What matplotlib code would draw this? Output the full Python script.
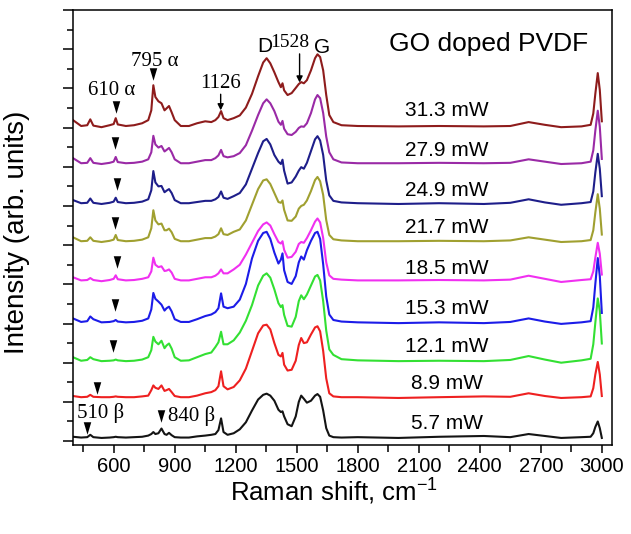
import matplotlib
matplotlib.use("Agg")
import matplotlib.pyplot as plt
from matplotlib.ticker import MultipleLocator
import numpy as np

plt.rcParams['font.family'] = ['Liberation Sans', 'DejaVu Sans']
plt.rcParams['mathtext.fontset'] = 'custom'
plt.rcParams['mathtext.rm'] = 'Liberation Sans'
plt.rcParams['mathtext.it'] = 'Liberation Sans:italic'

# Raman shift grid (cm^-1)
shift = [400, 440, 470, 485, 500, 540, 580, 600, 610, 620,
         660, 700, 740, 770, 785, 795, 805, 820, 835, 850, 860, 872, 885, 900, 930,
         970, 1010, 1050, 1080, 1100, 1115, 1128, 1140, 1160, 1190,
         1220, 1250, 1280, 1310, 1335, 1352, 1370, 1390, 1410, 1422, 1430, 1438,
         1455, 1475, 1495, 1510, 1522, 1535, 1550, 1570, 1590, 1602, 1615, 1630, 1645, 1660, 1680,
         1720, 1800, 2000, 2200, 2420, 2550, 2640, 2720, 2800, 2900, 2945, 2958, 2968, 2980, 2990, 3000]

powers = ["5.7 mW", "8.9 mW", "12.1 mW", "15.3 mW", "18.5 mW",
          "21.7 mW", "24.9 mW", "27.9 mW", "31.3 mW"]
offsets = [0.08, 1.10, 2.02, 3.01, 4.08, 5.08, 6.05, 7.07, 8.01]
colors = ["#141414", "#ee2020", "#33e033", "#1c1ce8", "#f030f0",
          "#a0a030", "#1e1e8a", "#9a2aa6", "#8e1c1c"]

i_5_7 = [.03, .01, .02, .08, .02, .0, .01, .02, .03, .02,
         .01, .02, .03, .06, .1, .15, .1, .12, .24, .1, .08, .13, .07, .02, .01,
         .01, .04, .06, .08, .1, .2, .5, .15, .08, .12,
         .22, .4, .7, .98, 1.1, 1.13, 1.08, .95, .72, .66, .68, .55,
         .35, .3, .55, .92, 1.08, 1.0, .9, .95, 1.08, 1.12, 1.05, .7, .25, .06, .02,
         .01, .02, .0, .03, .05, .02, .1, .05, .0, .02, .03, .12, .28, .42, .25, .0]
i_8_9 = [.05, .02, .03, .08, .03, .02, .02, .03, .04, .03,
         .02, .02, .04, .06, .2, .32, .26, .23, .32, .18, .2, .23, .15, .05, .02,
         .02, .06, .12, .15, .2, .3, .68, .3, .22, .28,
         .45, .75, 1.2, 1.65, 1.85, 1.87, 1.75, 1.4, 1.1, 1.06, 1.15, .85,
         .7, .72, .95, 1.35, 1.53, 1.4, 1.42, 1.62, 1.8, 1.83, 1.7, 1.2, .5, .12, .04,
         .02, .02, .0, .02, .04, .03, .12, .05, .0, .02, .04, .25, .6, .92, .6, .05]
i_12_1 = [.12, .03, .05, .12, .07, .02, .03, .04, .06, .04,
          .02, .03, .06, .12, .3, .64, .52, .45, .54, .35, .42, .47, .34, .12, .03,
          .04, .12, .2, .24, .38, .5, .77, .45, .45, .55,
          .75, 1.05, 1.45, 1.95, 2.2, 2.26, 2.15, 1.85, 1.5, 1.4, 1.45, 1.2,
          .92, .9, 1.15, 1.55, 1.7, 1.6, 1.72, 1.95, 2.18, 2.22, 2.08, 1.55, .8, .32, .18,
          .07, .04, .02, .03, .02, .05, .15, .06, -.02, .04, .08, .45, 1.0, 1.62, 1.3, .47]
i_15_3 = [.12, .03, .05, .17, .1, .02, .03, .05, .08, .04,
          .02, .03, .06, .12, .35, .77, .62, .55, .47, .32, .38, .42, .3, .1, .03,
          .03, .1, .18, .22, .28, .38, .76, .42, .38, .42,
          .6, 1.0, 1.65, 2.1, 2.3, 2.33, 2.15, 1.8, 1.52, 1.62, 1.78, 1.35,
          1.05, 1.0, 1.2, 1.55, 1.7, 1.62, 1.86, 2.1, 2.3, 2.33, 2.15, 1.5, .68, .22, .08,
          .04, .02, .0, .02, .0, .03, .12, .04, -.02, .02, .05, .4, 1.0, 1.66, 1.2, .26]
i_18_5 = [.1, .02, .03, .08, .03, .0, .03, .06, .15, .05,
          .02, .03, .06, .1, .25, .6, .42, .36, .38, .26, .27, .3, .22, .06, .02,
          .02, .06, .1, .1, .14, .2, .3, .2, .2, .3,
          .42, .68, .98, 1.28, 1.45, 1.5, 1.42, 1.2, 1.0, .96, 1.02, .8,
          .6, .62, .75, .95, 1.0, .98, 1.1, 1.3, 1.52, 1.6, 1.5, 1.1, .48, .15, .06,
          .04, .02, .02, .03, .02, .04, .14, .06, -.02, .03, .05, .25, .6, .98, .7, .17]
i_21_7 = [.12, .02, .03, .12, .03, .0, .03, .06, .18, .05,
          .02, .03, .06, .12, .35, .81, .55, .45, .47, .3, .3, .34, .25, .08, .02,
          .02, .06, .1, .1, .14, .2, .35, .2, .18, .26,
          .32, .55, .95, 1.35, 1.57, 1.6, 1.48, 1.25, 1.02, 1.0, 1.06, .82,
          .55, .54, .65, .85, .92, .95, 1.06, 1.3, 1.58, 1.66, 1.55, 1.2, .56, .18, .07,
          .04, .02, .02, .03, .02, .04, .12, .06, .0, .02, .05, .3, .75, 1.22, .85, .19]
i_24_9 = [.1, .02, .03, .14, .03, .0, .03, .06, .16, .05,
          .02, .03, .06, .12, .35, .84, .55, .45, .46, .3, .34, .38, .28, .1, .02,
          .02, .05, .08, .08, .12, .18, .32, .16, .13, .2,
          .28, .5, .9, 1.3, 1.6, 1.66, 1.52, 1.25, 1.08, 1.02, 1.13, .85,
          .52, .55, .7, .85, .94, .9, 1.05, 1.35, 1.65, 1.73, 1.62, 1.25, .6, .22, .08,
          .04, .02, .0, .02, .0, .03, .12, .04, -.02, .02, .05, .32, .8, 1.28, .9, .2]
i_27_9 = [.15, .02, .03, .15, .03, .0, .03, .06, .18, .05,
          .02, .03, .06, .12, .3, .72, .5, .42, .46, .32, .36, .41, .3, .12, .02,
          .02, .06, .1, .1, .15, .22, .36, .2, .17, .2,
          .28, .48, .85, 1.25, 1.55, 1.65, 1.55, 1.35, 1.08, 1.0, 1.1, .9,
          .76, .74, .82, .92, .96, .95, 1.04, 1.3, 1.65, 1.76, 1.68, 1.3, .7, .3, .12,
          .04, .02, .02, .03, .02, .03, .12, .06, .0, .02, .06, .35, .85, 1.36, .95, .13]
i_31_3 = [.18, .03, .05, .2, .04, .0, .05, .08, .23, .07,
          .03, .05, .1, .18, .43, 1.07, .77, .66, .61, .43, .48, .54, .38, .18, .03,
          .03, .1, .15, .13, .18, .26, .41, .23, .18, .23,
          .3, .5, .85, 1.3, 1.65, 1.76, 1.63, 1.4, 1.15, 1.02, 1.12, .94,
          .82, .87, 1.0, 1.1, 1.15, 1.12, 1.2, 1.45, 1.76, 1.86, 1.79, 1.45, .82, .31, .13,
          .05, .03, .02, .03, .02, .03, .13, .06, .0, .02, .06, .35, .85, 1.38, .95, .15]

spectra = [i_5_7, i_8_9, i_12_1, i_15_3, i_18_5, i_21_7, i_24_9, i_27_9, i_31_3]

# label positions (y in data units)
label_x = 2237
label_y = [0.46, 1.48, 2.42, 3.39, 4.41, 5.46, 6.40, 7.42, 8.44]

# triangle markers (peak indicators)
tri_x = [467, 834, 516, 598, 605, 618, 605, 618, 605, 610, 795]
tri_y = [0.34, 0.64, 1.36, 2.42, 3.46, 4.57, 5.56, 6.56, 7.61, 8.53, 9.37]

fig = plt.figure(figsize=(6.31, 5.34), dpi=100)
ax = fig.add_axes([73/631, 1-445/534, (612-73)/631, (445-10)/534])

for s, off, c in zip(spectra, offsets, colors):
    ax.plot(shift, np.array(s) + off, color=c, lw=1.5, solid_joinstyle='round')

for t, y in zip(powers, label_y):
    ax.text(label_x, y, t, fontsize=15, ha='center', va='center')

tri = [(-0.6, 1.0), (0.6, 1.0), (0.0, -1.0)]
ax.plot(tri_x, tri_y, linestyle='none', marker=tri, markersize=9,
        color='black', markeredgewidth=0)

serif = ['Liberation Serif', 'DejaVu Serif']
ax.text(590, 8.95, "610 α", family=serif, fontsize=15, ha='center', va='center')
ax.text(801, 9.69, "795 α", family=serif, fontsize=15, ha='center', va='center')
ax.text(1123, 9.13, "1126", family=serif, fontsize=15, ha='center', va='center')
ax.text(536, 0.71, "510 β", family=serif, fontsize=15, ha='center', va='center')
ax.text(983, 0.64, "840 β", family=serif, fontsize=15, ha='center', va='center')
ax.text(1345, 10.06, "D", fontsize=15, ha='center', va='center')
ax.text(1468, 10.18, "1528", family=serif, fontsize=14, ha='center', va='center')
ax.text(1625, 10.04, "G", fontsize=15, ha='center', va='center')
ax.text(2443, 10.13, "GO doped PVDF", fontsize=19, ha='center', va='center')

ax.annotate('', xy=(1126, 8.44), xytext=(1126, 8.85),
            arrowprops=dict(arrowstyle='-|>', color='black', lw=1.0,
                            mutation_scale=9, shrinkA=0, shrinkB=0))
ax.annotate('', xy=(1514, 9.15), xytext=(1514, 9.88),
            arrowprops=dict(arrowstyle='-|>', color='black', lw=1.0,
                            mutation_scale=9, shrinkA=0, shrinkB=0))

ax.set_xlim(400, 3050)
ax.set_ylim(-0.1, 11.0)
ax.xaxis.set_major_locator(MultipleLocator(300))
ax.xaxis.set_minor_locator(MultipleLocator(150))
ax.yaxis.set_major_locator(MultipleLocator(1))
ax.yaxis.set_minor_locator(MultipleLocator(0.5))
ax.set_xticks(range(600, 3001, 300))
ax.tick_params(axis='both', which='both', direction='out', width=1.1)
ax.tick_params(axis='x', which='major', length=6, labelsize=14.5, pad=3)
ax.tick_params(axis='x', which='minor', length=5)
ax.tick_params(axis='y', which='major', length=7, labelleft=False)
ax.tick_params(axis='y', which='minor', length=4)
for sp in ax.spines.values():
    sp.set_linewidth(1.1)

fig.text(334/631, 1-492/534, r"Raman shift, cm$^{-1}$", fontsize=18.5,
         ha='center', va='center')
fig.text(17/631, 1-232/534, "Intensity (arb. units)", fontsize=20,
         rotation=90, ha='center', va='center')

fig.savefig("out.png", dpi=100)
